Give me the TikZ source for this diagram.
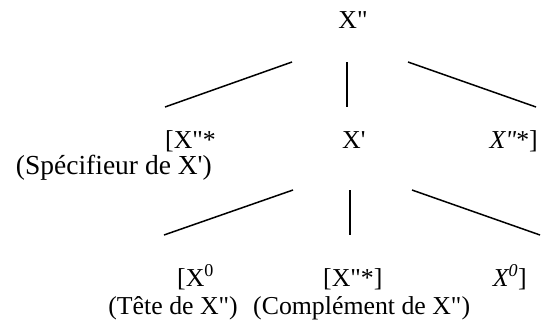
\documentclass[tikz,border=0pt]{standalone}
\usepackage{fontspec}
\setmainfont{Liberation Serif}[Ligatures=TeXOff]
\newcommand{\dq}{\symbol{34}}
\newcommand{\sq}{\symbol{39}}
\begin{document}
\begin{tikzpicture}[x=1pt,y=-1pt,
  lbl/.style={inner sep=0pt,font=\fontsize{25.8}{30}\selectfont},
  biglbl/.style={inner sep=0pt,font=\fontsize{27.5}{32}\selectfont},
  branch/.style={line width=1.5pt,black}]
\useasboundingbox (0,0) rectangle (543,325);
% top
\node[lbl,anchor=base] (top) at (353,28) {X\dq};
% level 1 connectors
\coordinate (a1) at (292,62); \coordinate (a2) at (165,107);
\coordinate (b1) at (347,62); \coordinate (b2) at (347,107);
\coordinate (c1) at (408,62); \coordinate (c2) at (536,107);
\draw[branch] (a1) -- (a2);
\draw[branch] (b1) -- (b2);
\draw[branch] (c1) -- (c2);
% row 2
\node[lbl,anchor=base west] (spec) at (165,148) {[X\dq*};
\node[lbl,anchor=base west] (xbar) at (342,148) {X\sq};
\node[lbl,anchor=base east] (adj) at (538,148) {\textit{X\dq}*]};
\node[biglbl,anchor=base east] (speclab) at (212,174) {(Spécifieur de X\sq)};
% level 2 connectors
\coordinate (d1) at (293,190); \coordinate (d2) at (164,235);
\coordinate (e1) at (350,190); \coordinate (e2) at (350,235);
\coordinate (f1) at (412,190); \coordinate (f2) at (540,235);
\draw[branch] (d1) -- (d2);
\draw[branch] (e1) -- (e2);
\draw[branch] (f1) -- (f2);
% row 3
\node[lbl,anchor=base west] (head) at (177,286) {[X\textsuperscript{0}};
\node[lbl,anchor=base west] (comp) at (323,286) {[X\dq*]};
\node[lbl,anchor=base east] (head2) at (527,286) {\textit{X\textsuperscript{0}}]};
% row 4
\node[lbl,anchor=base east] (headlab) at (238,314) {(Tête de X\dq)};
\node[lbl,anchor=base west] (complab) at (253,314) {(Complément de X\dq)};
\end{tikzpicture}
\end{document}
